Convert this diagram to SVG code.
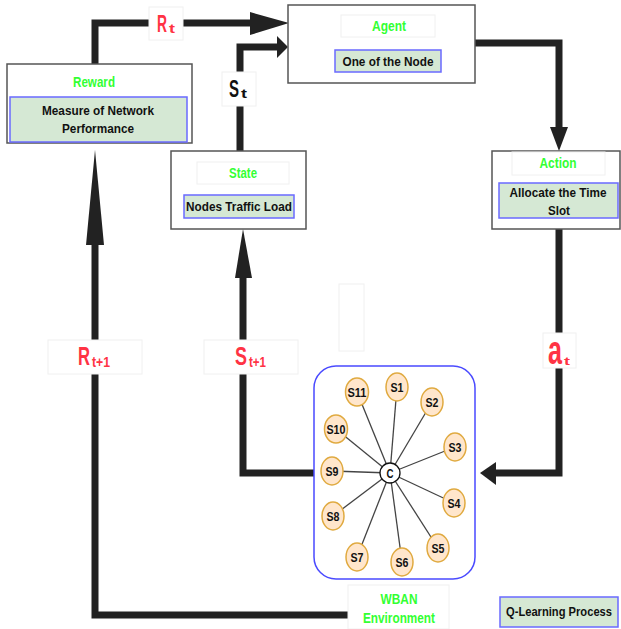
<svg xmlns="http://www.w3.org/2000/svg" width="621" height="629" viewBox="0 0 621 629">
<style>
  text { font-family: "Liberation Sans", Arial, sans-serif; font-weight: bold; }
  .box { fill: #ffffff; stroke: #555555; stroke-width: 1.5; }
  .inner { fill: #d5e8d4; stroke: #6a6aff; stroke-width: 1.5; }
  .lblbox { fill: #ffffff; stroke: #f0f0f0; stroke-width: 1; }
  .title { fill: #33ff33; font-size: 14px; text-anchor: middle; }
  .body { fill: #111111; font-size: 13px; text-anchor: middle; }
  .wire { fill: none; stroke: #222222; stroke-width: 7; stroke-linejoin: miter; }
  .head { fill: #222222; }
  .red { fill: #ff3344; }
  .spoke { stroke: #444444; stroke-width: 1.3; }
  .sn { fill: #ffe6cc; stroke: #e0aa40; stroke-width: 1.5; }
  .snt { fill: #111111; font-size: 13.5px; text-anchor: middle; }
</style>

<g id="connectors">
  <!-- Reward -> Agent (Rt) -->
  <path class="wire" d="M95,64 V23 H252"/>
  <polygon class="head" points="250,12 289,23 250,35"/>
  <!-- State -> Agent (St) -->
  <path class="wire" d="M240,151 V47 H279"/>
  <polygon class="head" points="277,36 288,47 277,58"/>
  <!-- Agent -> Action -->
  <path class="wire" d="M475,43 H559 V129"/>
  <polygon class="head" points="550,127 568,127 559,151"/>
  <!-- Action -> Environment (at) -->
  <path class="wire" d="M559,229 V473 H494"/>
  <polygon class="head" points="496,462 480,473 496,485"/>
  <!-- Environment -> State (St+1) -->
  <path class="wire" d="M314,473 H243 V276"/>
  <polygon class="head" points="235,278 243,229 252,278"/>
  <!-- Environment -> Reward (Rt+1) -->
  <path class="wire" d="M349,615 H95 V243"/>
  <polygon class="head" points="86,245 95,150 104,245"/>

  <!-- connector labels -->
  <g id="lbl-rt">
    <rect class="lblbox" x="149" y="7" width="34" height="33"/>
    <text class="red" x="157" y="32" font-size="23"><tspan textLength="10" lengthAdjust="spacingAndGlyphs">R</tspan><tspan x="169" y="33" font-size="13" textLength="6" lengthAdjust="spacingAndGlyphs">t</tspan></text>
  </g>
  <g id="lbl-st">
    <rect class="lblbox" x="222" y="72" width="34" height="34"/>
    <text fill="#111111" x="229" y="97" font-size="23"><tspan textLength="10" lengthAdjust="spacingAndGlyphs">S</tspan><tspan x="241" y="98" font-size="13" textLength="6" lengthAdjust="spacingAndGlyphs">t</tspan></text>
  </g>
  <g id="lbl-at">
    <rect class="lblbox" x="543" y="333" width="33" height="35"/>
    <text class="red" x="548" y="364" font-size="40"><tspan textLength="14" lengthAdjust="spacingAndGlyphs">a</tspan><tspan x="564" y="365" font-size="11" textLength="6" lengthAdjust="spacingAndGlyphs">t</tspan></text>
  </g>
  <g id="lbl-rt1">
    <rect class="lblbox" x="48" y="340" width="94" height="34"/>
    <text class="red" x="78" y="365" font-size="26"><tspan textLength="12" lengthAdjust="spacingAndGlyphs">R</tspan><tspan x="92" y="367" font-size="14" textLength="18" lengthAdjust="spacingAndGlyphs">t+1</tspan></text>
  </g>
  <g id="lbl-st1">
    <rect class="lblbox" x="204" y="340" width="94" height="34"/>
    <text class="red" x="235" y="365" font-size="26"><tspan textLength="12" lengthAdjust="spacingAndGlyphs">S</tspan><tspan x="249" y="367" font-size="14" textLength="17" lengthAdjust="spacingAndGlyphs">t+1</tspan></text>
  </g>
</g>

<rect x="339" y="284" width="25" height="67" fill="#ffffff" stroke="#f0f0f0" stroke-width="1"/>

<g id="reward">
  <rect class="box" x="7" y="64" width="185" height="79"/>
  <text class="title" x="94" y="87" textLength="42" lengthAdjust="spacingAndGlyphs">Reward</text>
  <rect class="inner" x="10" y="97" width="177" height="45"/>
  <text class="body" x="98" y="115" textLength="112" lengthAdjust="spacingAndGlyphs">Measure of Network</text>
  <text class="body" x="98" y="133" textLength="72" lengthAdjust="spacingAndGlyphs">Performance</text>
</g>

<g id="agent">
  <rect class="box" x="288" y="5" width="187" height="78"/>
  <rect class="lblbox" x="341" y="15" width="94" height="22"/>
  <text class="title" x="389" y="31" textLength="34" lengthAdjust="spacingAndGlyphs">Agent</text>
  <rect class="inner" x="335" y="50" width="106" height="22"/>
  <text class="body" x="388" y="66" textLength="91" lengthAdjust="spacingAndGlyphs">One of the Node</text>
</g>

<g id="state">
  <rect class="box" x="171" y="151" width="135" height="78"/>
  <rect class="lblbox" x="197" y="162" width="92" height="22"/>
  <text class="title" x="243" y="178" textLength="28" lengthAdjust="spacingAndGlyphs">State</text>
  <rect class="inner" x="184" y="195" width="110" height="23"/>
  <text class="body" x="239" y="211" textLength="106" lengthAdjust="spacingAndGlyphs">Nodes Traffic Load</text>
</g>

<g id="action">
  <rect class="box" x="492" y="151" width="128" height="78"/>
  <rect class="lblbox" x="512" y="152" width="93" height="23"/>
  <text class="title" x="558" y="168" textLength="37" lengthAdjust="spacingAndGlyphs">Action</text>
  <rect class="inner" x="499" y="183" width="119" height="35"/>
  <text class="body" x="558" y="197" font-size="12.5" textLength="97" lengthAdjust="spacingAndGlyphs">Allocate the Time</text>
  <text class="body" x="559" y="215" textLength="22" lengthAdjust="spacingAndGlyphs">Slot</text>
</g>

<g id="environment">
  <rect x="314" y="366" width="161" height="213" rx="22" ry="22" fill="#ffffff" stroke="#4a4aff" stroke-width="1.5"/>
  <g id="spokes">
    <line class="spoke" x1="390" y1="473" x2="397" y2="387"/>
    <line class="spoke" x1="390" y1="473" x2="432" y2="402"/>
    <line class="spoke" x1="390" y1="473" x2="455" y2="447"/>
    <line class="spoke" x1="390" y1="473" x2="454" y2="503"/>
    <line class="spoke" x1="390" y1="473" x2="438" y2="548"/>
    <line class="spoke" x1="390" y1="473" x2="402" y2="562"/>
    <line class="spoke" x1="390" y1="473" x2="357" y2="557"/>
    <line class="spoke" x1="390" y1="473" x2="333" y2="516"/>
    <line class="spoke" x1="390" y1="473" x2="332" y2="471"/>
    <line class="spoke" x1="390" y1="473" x2="336" y2="429"/>
    <line class="spoke" x1="390" y1="473" x2="357" y2="392"/>
  </g>
  <g id="s1"><ellipse class="sn" cx="397" cy="387" rx="11" ry="14"/><text class="snt" x="397" y="392" textLength="13" lengthAdjust="spacingAndGlyphs">S1</text></g>
  <g id="s2"><ellipse class="sn" cx="432" cy="402" rx="11" ry="14"/><text class="snt" x="432" y="407" textLength="13" lengthAdjust="spacingAndGlyphs">S2</text></g>
  <g id="s3"><ellipse class="sn" cx="455" cy="447" rx="11" ry="14"/><text class="snt" x="455" y="452" textLength="13" lengthAdjust="spacingAndGlyphs">S3</text></g>
  <g id="s4"><ellipse class="sn" cx="454" cy="503" rx="11" ry="14"/><text class="snt" x="454" y="508" textLength="13" lengthAdjust="spacingAndGlyphs">S4</text></g>
  <g id="s5"><ellipse class="sn" cx="438" cy="548" rx="11" ry="14"/><text class="snt" x="438" y="553" textLength="13" lengthAdjust="spacingAndGlyphs">S5</text></g>
  <g id="s6"><ellipse class="sn" cx="402" cy="562" rx="11" ry="14"/><text class="snt" x="402" y="567" textLength="13" lengthAdjust="spacingAndGlyphs">S6</text></g>
  <g id="s7"><ellipse class="sn" cx="357" cy="557" rx="11" ry="14"/><text class="snt" x="357" y="562" textLength="13" lengthAdjust="spacingAndGlyphs">S7</text></g>
  <g id="s8"><ellipse class="sn" cx="333" cy="516" rx="11" ry="14"/><text class="snt" x="333" y="521" textLength="13" lengthAdjust="spacingAndGlyphs">S8</text></g>
  <g id="s9"><ellipse class="sn" cx="332" cy="471" rx="11" ry="14"/><text class="snt" x="332" y="476" textLength="13" lengthAdjust="spacingAndGlyphs">S9</text></g>
  <g id="s10"><ellipse class="sn" cx="336" cy="429" rx="11.5" ry="14"/><text class="snt" x="336" y="434" textLength="19" lengthAdjust="spacingAndGlyphs">S10</text></g>
  <g id="s11"><ellipse class="sn" cx="357" cy="392" rx="11.5" ry="14"/><text class="snt" x="357" y="397" textLength="19" lengthAdjust="spacingAndGlyphs">S11</text></g>
  <g id="c"><circle cx="390" cy="473" r="10" fill="#ffffff" stroke="#111111" stroke-width="1.3"/><text class="snt" x="390" y="478" textLength="7" lengthAdjust="spacingAndGlyphs">C</text></g>
</g>

<g id="wban-label">
  <rect class="lblbox" x="348" y="585" width="101" height="44"/>
  <text class="title" x="399" y="604" textLength="37" lengthAdjust="spacingAndGlyphs">WBAN</text>
  <text class="title" x="399" y="623" textLength="72" lengthAdjust="spacingAndGlyphs">Environment</text>
</g>

<g id="legend">
  <rect class="inner" x="500" y="597" width="118" height="30"/>
  <text class="body" x="559" y="616" font-size="11" textLength="106" lengthAdjust="spacingAndGlyphs">Q-Learning Process</text>
</g>
</svg>
